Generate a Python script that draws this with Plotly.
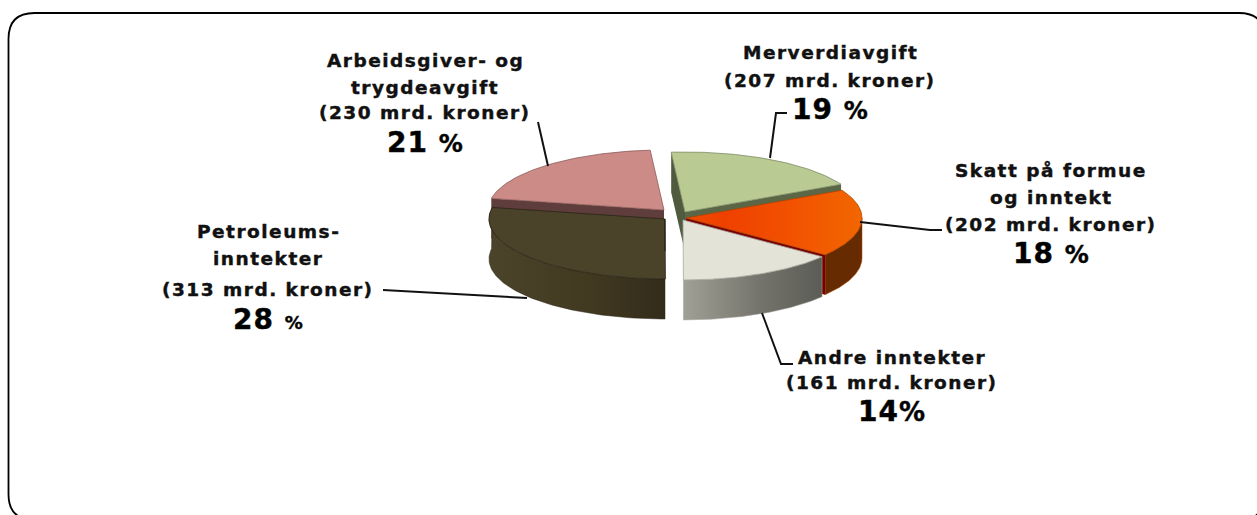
import numpy as np
import plotly.graph_objects as go

# ---- data ----
categories = ["Merverdiavgift", "Skatt på formue og inntekt", "Andre inntekter",
              "Petroleumsinntekter", "Arbeidsgiver- og trygdeavgift"]
values = [207, 202, 161, 313, 230]

# ---- label text (line by line) ----
label_lines = [
    ["Merverdiavgift", "(207 mrd. kroner)"],
    ["Skatt på formue", "og inntekt", "(202 mrd. kroner)"],
    ["Andre inntekter", "(161 mrd. kroner)"],
    ["Petroleums-", "inntekter", "(313 mrd. kroner)"],
    ["Arbeidsgiver- og", "trygdeavgift", "(230 mrd. kroner)"],
]
pct_labels = ['19 <span style="font-size:24px">%</span>',
              '18 <span style="font-size:24px">%</span>',
              '14<span style="font-size:26px">%</span>',
              '28 <span style="font-size:18px">%</span>',
              '21 <span style="font-size:24px">%</span>']

# ---- layout of the picture (pixel-scale axes) ----
W, H = 1257, 515
RX, RY, DEPTH = 176, 60, 40
START = -4.5
apex = [(685, 212), (686, 218), (683, 220), (665, 219), (664, 210)]
label_x = [830, 1051, 892, 268, 425]
label_y = [[52, 80], [170, 197, 224], [357, 382], [231, 258, 289], [60, 87, 112]]
pct_y = [109, 253, 411, 319, 142]
leaders = [
    ([770, 776, 787], [158, 113, 113]),
    ([860, 930, 942], [222, 230, 230]),
    ([762, 781, 793], [313, 364, 364]),
    ([527, 383], [298, 290]),
    ([548, 538], [166, 122]),
]
top_col = ["#b9ca93", None, "#e3e3d8", "#4a4229", "#cd8b87"]
edge_col = ["#7d8a63", "#b34500", "#a8a89e", "#2a2516", "#8a5a57"]

# ---- slice angles come from the values ----
total = sum(values)
angles = np.cumsum([0] + [v / total * 360 for v in values]) + START


def arc(i, a0, a1, dy=0.0, n=80):
    t = np.radians(np.linspace(a0, a1, n))
    cx, cy = apex[i]
    return cx + RX * np.sin(t), cy - RY * np.cos(t) + dy


def rim(i, a):
    x, y = arc(i, a, a, n=1)
    return float(x[0]), float(y[0])


fig = go.Figure()


def poly(xs, ys, color=None, gradient=None, line=None, lw=0.8):
    kw = dict(x=list(xs), y=list(ys), mode="lines", fill="toself",
              line=dict(color=line or "rgba(0,0,0,0)", width=lw),
              hoverinfo="skip", showlegend=False)
    if gradient:
        kw["fillgradient"] = dict(type="horizontal", colorscale=gradient)
    else:
        kw["fillcolor"] = color
    fig.add_trace(go.Scatter(**kw))


def top(i, color=None, gradient=None):
    x, y = arc(i, angles[i], angles[i + 1])
    cx, cy = apex[i]
    poly([cx, *x, cx], [cy, *y, cy], color, gradient, edge_col[i])


def cut_face(i, a, color):
    cx, cy = apex[i]
    rx, ry = rim(i, a)
    poly([cx, rx, rx, cx, cx], [cy, ry, ry + DEPTH, cy + DEPTH, cy], color)


def outer_wall(i, a0, a1, color=None, gradient=None):
    x, y = arc(i, a0, a1)
    poly([*x, *x[::-1], x[0]], [*y, *(y[::-1] + DEPTH), y[0]], color, gradient, edge_col[i], 0.5)


# back to front
cut_face(0, angles[0], "#4f5a3e")
cut_face(0, angles[1], "#5b6647")
top(0, top_col[0])

cut_face(4, angles[4], "#5e3d3c")
top(4, top_col[4])

outer_wall(3, 180, angles[4], gradient=[[0, "#4b432a"], [0.6, "#40381f"], [1, "#332c1b"]])
top(3, top_col[3])

outer_wall(1, 90, angles[2], "#662b00")
cut_face(1, angles[2], "#7a0000")
top(1, gradient=[[0, "#f04a00"], [0.22, "#ef4000"], [0.6, "#f25200"], [1, "#f26600"]])

outer_wall(2, angles[2], angles[3], gradient=[[0, "#a0a096"], [0.55, "#74746c"], [1, "#5c5c56"]])
top(2, top_col[2])

# the inner face of the petroleum slice is seen edge-on
cx3, cy3 = apex[3]
fig.add_trace(go.Scatter(x=[cx3, cx3], y=[cy3, cy3 + 32], mode="lines",
                         line=dict(color="#1c1a10", width=1),
                         hoverinfo="skip", showlegend=False))

# leader lines
for lx, ly in leaders:
    fig.add_trace(go.Scatter(x=lx, y=ly, mode="lines", line=dict(color="#111", width=2),
                             hoverinfo="skip", showlegend=False))

FONT = "DejaVu Sans"
STROKE = "stroke:#111;stroke-width:0.45px;font-weight:700"
ann = []
for xc, lines, ys, pct, py in zip(label_x, label_lines, label_y, pct_labels, pct_y):
    for txt, yy in zip(lines, ys):
        ann.append(dict(x=xc, y=yy,
                        text=f'<span style="letter-spacing:1.5px;{STROKE}">{txt}</span>',
                        xref="x", yref="y", showarrow=False, xanchor="center", yanchor="middle",
                        font=dict(family=FONT, size=18.5, weight=700, color="#111")))
    ann.append(dict(x=xc, y=py, text=f'<span style="letter-spacing:1px;{STROKE}">{pct}</span>',
                    xref="x", yref="y", showarrow=False, xanchor="center", yanchor="middle",
                    font=dict(family=FONT, size=28, weight=700, color="#000")))

x0, y0, x1, y1, r = 8.5, 13, 1265, 520, 26
frame = (f"M {x0 + r} {y0} L {x1 - r} {y0} Q {x1} {y0} {x1} {y0 + r} L {x1} {y1 - r} "
         f"Q {x1} {y1} {x1 - r} {y1} L {x0 + r} {y1} Q {x0} {y1} {x0} {y1 - r} "
         f"L {x0} {y0 + r} Q {x0} {y0} {x0 + r} {y0} Z")

fig.update_layout(
    width=W, height=H, margin=dict(l=0, r=0, t=0, b=0),
    paper_bgcolor="white", plot_bgcolor="white", showlegend=False,
    xaxis=dict(range=[0, W], visible=False, fixedrange=True),
    yaxis=dict(range=[H, 0], visible=False, fixedrange=True),
    annotations=ann,
    shapes=[dict(type="path", path=frame, xref="x", yref="y", layer="below",
                 line=dict(color="black", width=1.8))],
)
fig.write_html("out.html", config={"displayModeBar": False},
               post_script="document.body.style.margin='0';document.documentElement.style.overflow='hidden';")
